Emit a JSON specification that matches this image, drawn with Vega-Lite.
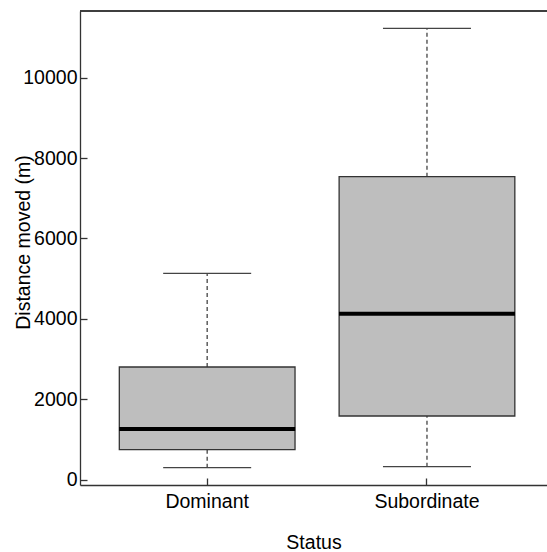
{
  "$schema": "https://vega.github.io/schema/vega-lite/v6.json",
  "width": 467,
  "height": 474,
  "autosize": {"type": "none"},
  "padding": {"left": 80, "top": 11, "right": 0, "bottom": 67},
  "background": "white",
  "config": {
    "view": {"stroke": null},
    "font": "Liberation Sans",
    "axis": {
      "labelFont": "Liberation Sans",
      "titleFont": "Liberation Sans",
      "labelFontSize": 19.5,
      "titleFontSize": 19.5,
      "titleFontWeight": "normal",
      "labelColor": "black",
      "titleColor": "black",
      "domainColor": "#333333",
      "tickColor": "#333333",
      "domainWidth": 1.3,
      "tickWidth": 1.3,
      "grid": false
    }
  },
  "data": {
    "values": [
      {"Status": "Dominant", "low": 298, "q1": 746, "median": 1261, "q3": 2803, "high": 5134},
      {"Status": "Subordinate", "low": 323, "q1": 1585, "median": 4129, "q3": 7537, "high": 11229}
    ]
  },
  "layer": [
    {
      "mark": {"type": "rule", "color": "#444444", "strokeWidth": 1.3, "strokeDash": [4, 3]},
      "encoding": {
        "x": {
          "field": "Status",
          "type": "nominal",
          "scale": {"paddingInner": 0.2006, "paddingOuter": 0.1626, "align": 0.55},
          "axis": {
            "labelAngle": 0,
            "tickSize": -7,
            "labelPadding": 29,
            "labelBaseline": "alphabetic",
            "title": "Status",
            "titleBaseline": "alphabetic",
            "titleY": 63
          }
        },
        "y": {
          "field": "low",
          "type": "quantitative",
          "scale": {"domain": [-132, 11659], "nice": false, "zero": false},
          "axis": {
            "values": [0, 2000, 4000, 6000, 8000, 10000],
            "format": "d",
            "tickSize": -7,
            "labelPadding": 10,
            "title": "Distance moved (m)",
            "titleBaseline": "middle",
            "titleX": -57,
            "titleY": 231
          }
        },
        "y2": {"field": "q1"}
      }
    },
    {
      "mark": {"type": "rule", "color": "#444444", "strokeWidth": 1.3, "strokeDash": [4, 3]},
      "encoding": {
        "x": {"field": "Status", "type": "nominal"},
        "y": {"field": "q3", "type": "quantitative"},
        "y2": {"field": "high"}
      }
    },
    {
      "mark": {"type": "tick", "color": "#444444", "thickness": 1.3, "size": 88, "opacity": 1},
      "encoding": {
        "x": {"field": "Status", "type": "nominal"},
        "y": {"field": "low", "type": "quantitative"}
      }
    },
    {
      "mark": {"type": "tick", "color": "#444444", "thickness": 1.3, "size": 88, "opacity": 1},
      "encoding": {
        "x": {"field": "Status", "type": "nominal"},
        "y": {"field": "high", "type": "quantitative"}
      }
    },
    {
      "mark": {"type": "bar", "fill": "#bebebe", "stroke": "#333333", "strokeWidth": 1.3, "opacity": 1},
      "encoding": {
        "x": {"field": "Status", "type": "nominal"},
        "y": {"field": "q1", "type": "quantitative"},
        "y2": {"field": "q3"}
      }
    },
    {
      "mark": {"type": "tick", "color": "black", "thickness": 4, "size": 176, "opacity": 1},
      "encoding": {
        "x": {"field": "Status", "type": "nominal"},
        "y": {"field": "median", "type": "quantitative"}
      }
    },
    {
      "mark": {"type": "rule", "color": "#333333", "strokeWidth": 1.3},
      "encoding": {"y": {"datum": 11659}}
    }
  ]
}
